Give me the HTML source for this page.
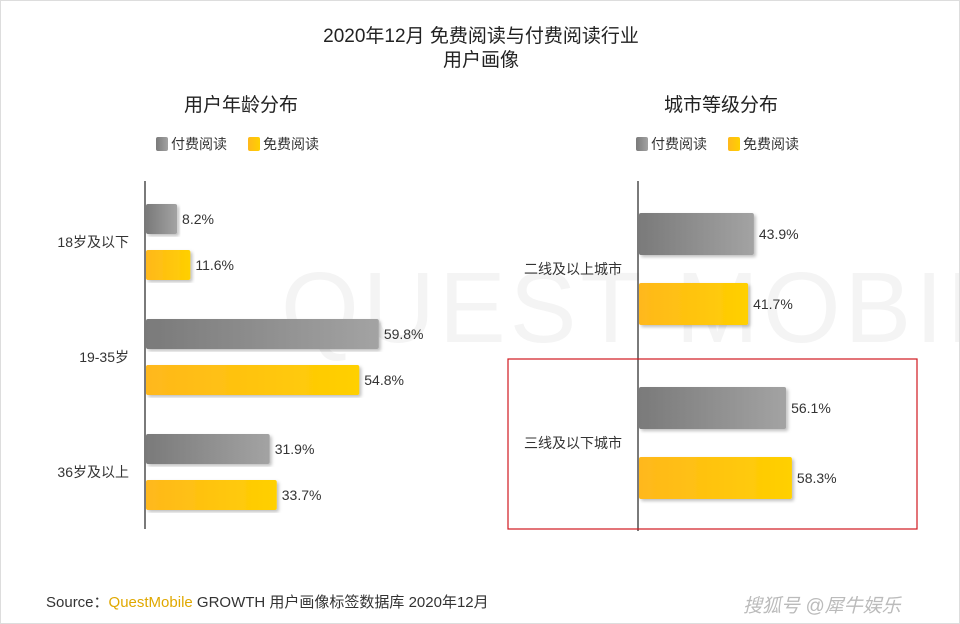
<!DOCTYPE html>
<html><head><meta charset="utf-8"><style>
body{margin:0;background:#fff;}
#wrap{position:relative;width:958px;height:622px;border:1px solid #ddd;overflow:hidden;font-family:"Liberation Sans","Noto Sans CJK SC",sans-serif;color:#222;}
.t{position:absolute;white-space:nowrap;}
</style></head><body>
<div id="wrap">
<div class="t" style="left:280px;top:250px;font-size:100px;color:#f4f4f4;letter-spacing:4px;">QUEST MOBILE</div>
<div class="t" style="left:0;width:960px;text-align:center;top:24px;font-size:19px;line-height:24px;">2020年12月 免费阅读与付费阅读行业<br>用户画像</div>
<svg id="chart" width="960" height="624" style="position:absolute;left:0;top:0"></svg>
<div class="t" style="left:45px;top:590px;font-size:15px;color:#333;">Source：<span style="color:#e0a800">QuestMobile</span> GROWTH 用户画像标签数据库 2020年12月</div>
<div class="t" style="left:742px;top:590px;font-size:19px;color:#bbb;font-style:italic;">搜狐号 @犀牛娱乐</div>
</div>
<script>
const ageCats=["18岁及以下","19-35岁","36岁及以上"];
const agePaid=[8.2,59.8,31.9];
const ageFree=[11.6,54.8,33.7];
const cityCats=["二线及以上城市","三线及以下城市"];
const cityPaid=[43.9,56.1];
const cityFree=[41.7,58.3];
const seriesNames=["付费阅读","免费阅读"];
const NS="http://www.w3.org/2000/svg";
const svg=document.getElementById('chart');
function mk(tag,attrs){const e=document.createElementNS(NS,tag);for(const k in attrs)e.setAttribute(k,attrs[k]);svg.appendChild(e);return e;}
const defs=mk('defs',{});
defs.innerHTML='<linearGradient id="gg"><stop offset="0" stop-color="#7a7a7a"/><stop offset="1" stop-color="#a3a3a3"/></linearGradient><linearGradient id="gy"><stop offset="0" stop-color="#ffb81c"/><stop offset="1" stop-color="#ffd000"/></linearGradient><filter id="sh"><feDropShadow dx="2" dy="2" stdDeviation="1.5" flood-color="#000" flood-opacity="0.25"/></filter>';
function panel(o){
  const tt=mk('text',{x:o.cx,y:110,'font-size':19,'text-anchor':'middle',fill:'#222'});tt.textContent=o.title;
  
  
  seriesNames.forEach((n,i)=>{
    const lx=o.legX+i*92;
    const r=mk('rect',{x:lx,y:136,width:12,height:14,rx:2,fill:i?'url(#gy)':'url(#gg)'});
    
    
    const t=mk('text',{x:lx+15,y:148,'font-size':14,fill:'#333'});t.textContent=n;
    
    
  });
  const ax=mk('line',{x1:o.x0,x2:o.x0,y1:180,y2:o.axisEnd,stroke:'#222','stroke-width':1.2});
  
  
  const X=v=>o.x0+v*o.scale;
  o.cats.forEach((c,i)=>{
    const yg=o.y0+i*o.step;
    [[o.paid[i],yg,'url(#gg)','paid'],[o.free[i],yg+o.gap,'url(#gy)','free']].forEach(([v,y,f,s])=>{
      const b=mk('rect',{x:o.x0+1,y:y,width:X(v)-o.x0-1,height:o.h,rx:2,fill:f,filter:'url(#sh)'});
      
      
      const l=mk('text',{x:X(v)+5,y:y+o.h/2+5,'font-size':14,fill:'#333'});l.textContent=v.toFixed(1)+'%';
      
      
    });
    const cl=mk('text',{x:o.x0-(o.key==='age'?16:16),y:yg+(o.gap+o.h)/2+5,'font-size':14,'text-anchor':'end',fill:'#333'});cl.textContent=c;
    
    
  });
}
panel({key:'age',title:'用户年龄分布',cx:240,legX:155,x0:144,axisEnd:528,scale:3.91,cats:ageCats,paid:agePaid,free:ageFree,y0:203,step:115,gap:46,h:30});
panel({key:'city',title:'城市等级分布',cx:720,legX:635,x0:637,axisEnd:530,scale:2.64,cats:cityCats,paid:cityPaid,free:cityFree,y0:212,step:174,gap:70,h:42});
const hb=mk('rect',{x:507,y:358,width:409,height:170,fill:'none',stroke:'#d0181e','stroke-width':1.2});


</script>
</body></html>
